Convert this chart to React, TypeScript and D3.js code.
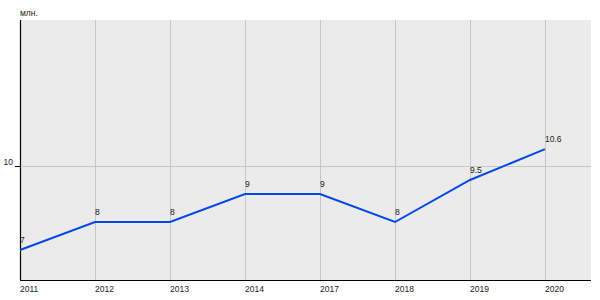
import React from "react";
import * as d3 from "d3";

const categories = ["2011", "2012", "2013", "2014", "2017", "2018", "2019", "2020"];
const values = [7, 8, 8, 9, 9, 8, 9.5, 10.6];
const valueLabels = ["7", "8", "8", "9", "9", "8", "9.5", "10.6"];
const yTicks = [10];
const unitLabel = "млн.";

export default function App() {
  const W = 600, H = 300;
  const left = 20, right = 591, top = 20, bottom = 280;
  const step = 75;
  const x = d3.scaleLinear().domain([0, categories.length - 1]).range([left, left + step * (categories.length - 1)]);
  const y = d3.scaleLinear().domain([5.93, 15.21]).range([bottom, top]);
  const line = d3.line<number>().x((_, i) => x(i)).y((d) => y(d));
  const font = "Arial, 'Liberation Sans', sans-serif";
  return (
    <svg width={W} height={H} style={{ position: "absolute", left: 0, top: 0 }} fontFamily={font}>
      <rect x={left} y={top} width={right - left} height={bottom - top} fill="#ebebeb" />
      {categories.map((c, i) => (
        <line key={c} x1={x(i) + 0.5} x2={x(i) + 0.5} y1={top} y2={bottom} stroke="#c6c6c6" strokeWidth={1} />
      ))}
      {yTicks.map((t) => (
        <g key={t}>
          <line x1={left} x2={right} y1={Math.round(y(t)) + 0.5} y2={Math.round(y(t)) + 0.5} stroke="#c6c6c6" />
          <line x1={left - 5} x2={left} y1={Math.round(y(t)) + 0.5} y2={Math.round(y(t)) + 0.5} stroke="#000" />
          <text x={left - 7} y={y(t) - 1} textAnchor="end" fontSize={8.5} fill="#222">{t}</text>
        </g>
      ))}
      <line x1={left + 0.5} x2={left + 0.5} y1={top} y2={bottom} stroke="#000" strokeWidth={1.2} />
      <line x1={left} x2={right} y1={bottom + 0.5} y2={bottom + 0.5} stroke="#000" strokeWidth={1.2} />
      {categories.map((c, i) => (
        <text key={c} x={x(i)} y={bottom + 12} fontSize={8.5} fill="#222">{c}</text>
      ))}
      <path d={line(values) || ""} fill="none" stroke="#0048e8" strokeWidth={2} />
      {values.map((v, i) => (
        <text key={i} x={x(i)} y={y(v) - 7} fontSize={8.5} fill="#222">{valueLabels[i]}</text>
      ))}
      <text x={left} y={16} fontSize={8.5} fill="#222">{unitLabel}</text>
    </svg>
  );
}
